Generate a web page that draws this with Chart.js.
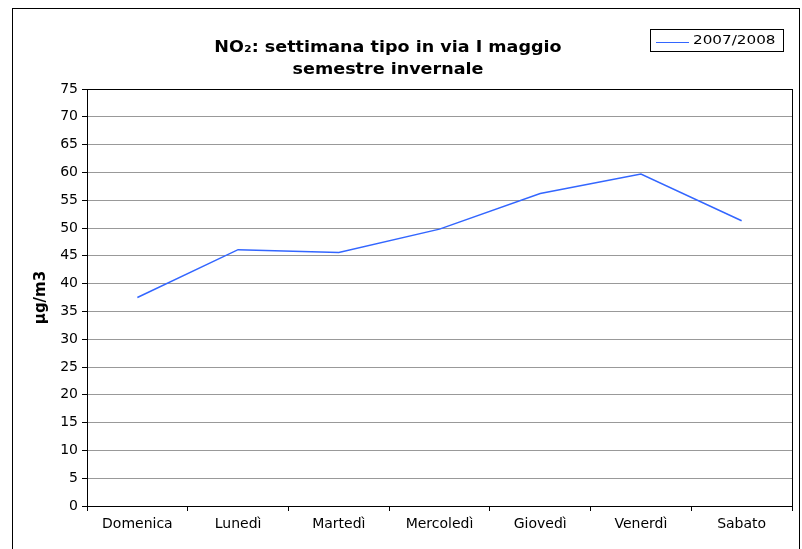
<!DOCTYPE html>
<html>
<head>
<meta charset="utf-8">
<script src="https://cdn.jsdelivr.net/npm/chart.js@4/dist/chart.umd.min.js"></script>
<style>
  html, body { margin: 0; padding: 0; background: #fff; }
  #wrap { width: 802px; height: 549px; position: relative; }
</style>
</head>
<body>
<div id="wrap"><canvas id="no2Chart"></canvas></div>
<script>
// Dati
const giorni = ['Domenica', 'Lunedì', 'Martedì', 'Mercoledì', 'Giovedì', 'Venerdì', 'Sabato'];
const no2Inverno = [37.5, 46.1, 45.6, 49.8, 56.2, 59.7, 51.3];
const serieLabel = '2007/2008';
const titoloRighe = ['NO\u2082: settimana tipo in via I maggio', 'semestre invernale'];
const yMin = 0, yMax = 75, yStep = 5;
const yTitolo = 'µg/m3';

const FONT = "'DejaVu Sans', Verdana, sans-serif";
const STRETCH = 1.17; // il riferimento ha il testo un po' allargato

function testoLargo(ctx, txt, x, y, align) {
    ctx.save();
    ctx.translate(x, y);
    ctx.scale(STRETCH, 1);
    ctx.textAlign = align;
    ctx.fillText(txt, 0, 0);
    ctx.restore();
}

// bordo esterno, riquadro del grafico, titolo e legenda
const cornice = {
    id: 'cornice',
    afterDraw(chart) {
        const ctx = chart.ctx;
        const a = chart.chartArea;
        ctx.save();
        ctx.strokeStyle = '#000';
        ctx.lineWidth = 1;
        ctx.strokeRect(12.5, 8.5, 787, 560);
        ctx.strokeRect(Math.round(a.left) + 0.5, Math.round(a.top) + 0.5,
            Math.round(a.right - a.left), Math.round(a.bottom - a.top));

        // titolo
        ctx.fillStyle = '#000';
        ctx.font = 'bold 15px ' + FONT;
        ctx.textBaseline = 'middle';
        testoLargo(ctx, titoloRighe[0], 388, 48, 'center');
        testoLargo(ctx, titoloRighe[1], 388, 70, 'center');

        // legenda
        ctx.strokeRect(650.5, 29.5, 133, 22);
        ctx.strokeStyle = '#3366ff';
        ctx.beginPath();
        ctx.moveTo(656, 42.5);
        ctx.lineTo(689, 42.5);
        ctx.stroke();
        ctx.font = '13px ' + FONT;
        testoLargo(ctx, serieLabel, 693, 41, 'left');
        ctx.restore();
    }
};

new Chart(document.getElementById('no2Chart'), {
    type: 'line',
    data: {
        labels: giorni,
        datasets: [{
            label: serieLabel,
            data: no2Inverno,
            borderColor: '#3366ff',
            borderWidth: 1.5,
            pointRadius: 0,
            tension: 0,
            fill: false
        }]
    },
    options: {
        responsive: true,
        maintainAspectRatio: false,
        animation: false,
        layout: { padding: { left: 12, top: 89, right: 10, bottom: 0 } },
        plugins: {
            legend: { display: false },
            title: { display: false },
            tooltip: { enabled: false }
        },
        scales: {
            x: {
                offset: true,
                grid: { offset: true, drawOnChartArea: false, tickLength: 5, color: '#000' },
                border: { color: '#000' },
                ticks: { color: '#000', font: { family: FONT, size: 14 }, padding: 5, maxRotation: 0 },
                afterFit(s) { s.height = 43; }
            },
            y: {
                min: yMin,
                max: yMax,
                ticks: { stepSize: yStep, color: '#000', font: { family: FONT, size: 14 }, padding: 4 },
                grid: { color: '#999', tickColor: '#000', tickLength: 5 },
                border: { color: '#000' },
                title: {
                    display: true,
                    text: yTitolo,
                    color: '#000',
                    font: { family: FONT, size: 15, weight: 'bold' },
                    padding: { top: 20, bottom: 0 }
                },
                afterFit(s) { s.width = 75; }
            }
        }
    },
    plugins: [cornice]
});
</script>
</body>
</html>
